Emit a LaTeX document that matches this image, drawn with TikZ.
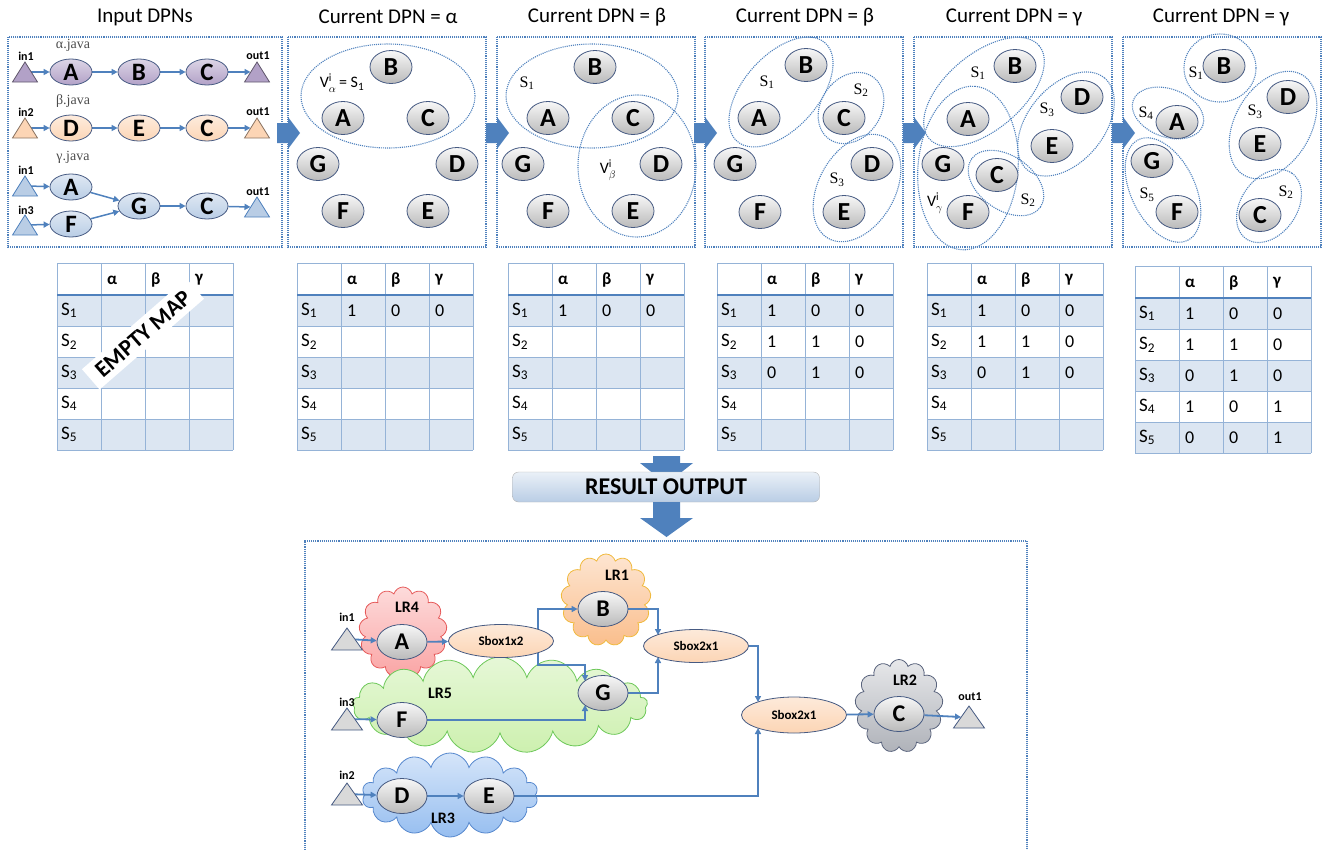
\documentclass[tikz,border=0pt]{standalone}
\usepackage{fontspec}
\setmainfont{Carlito}
\newfontfamily\serifname{Liberation Serif}
\usetikzlibrary{shapes.geometric, shapes.symbols, positioning, arrows.meta, calc}
\definecolor{dpnblue}{RGB}{79,129,189}
\definecolor{nodeline}{RGB}{70,90,130}
\definecolor{alphafill}{RGB}{178,161,199}
\definecolor{betafill}{RGB}{252,213,181}
\definecolor{gammafill}{RGB}{185,205,229}
\definecolor{rowfill}{RGB}{220,230,242}
\definecolor{gridline}{RGB}{149,179,215}
\definecolor{lrfourline}{RGB}{230,90,90}
\definecolor{lrfourfill}{RGB}{250,165,165}
\definecolor{lroneline}{RGB}{240,185,60}
\definecolor{lronefill}{RGB}{250,190,140}
\definecolor{lrfiveline}{RGB}{110,200,90}
\definecolor{lrfivefill}{RGB}{205,240,175}
\definecolor{lrthreeline}{RGB}{85,135,205}
\definecolor{lrthreefill}{RGB}{150,190,240}
\definecolor{lrtwoline}{RGB}{90,100,125}
\definecolor{lrtwofill}{RGB}{175,178,185}

\pgfdeclarelayer{clouds}
\pgfdeclarelayer{wires}
\pgfsetlayers{clouds,wires,main}

\tikzset{
  cell/.style={anchor=west, inner sep=0pt, font=\fontsize{18}{18}\selectfont},
  port/.pic={\path[pic actions] (-12.5,10) -- (12.5,10) -- (0,-10) -- cycle;
    \coordinate (-c) at (0,0); \coordinate (-w) at (-6.5,0);}
}

% mapping table: name, x, y
\newcommand{\maptable}[3]{%
  \begin{scope}[shift={(#2,#3)}]
    \foreach \r in {1,3,5}
      \fill[rowfill] (0,{1+31*\r}) rectangle (176,{32+31*\r});
    \foreach \yy in {0,32,63,94,125,156,187}
      \draw[gridline, line width=0.9pt] (0,\yy) -- (176,\yy);
    \foreach \xx in {0,44,88,132,176}
      \draw[gridline, line width=0.9pt] (\xx,0) -- (\xx,187);
    \draw[dpnblue, line width=1.4pt] (0,32) -- (176,32);
    \foreach \g [count=\c] in {α,β,γ}
      \node[cell, font=\fontsize{17}{17}\selectfont\bfseries] (#1h\c) at ({44*\c+6},17) {\g};
    \foreach \r in {1,...,5}
      \node[cell, font=\fontsize{19}{19}\selectfont] (#1s\r) at (4,{16.5+31*\r}) {S\textsubscript{\r}};
  \end{scope}}
% table entries: name, x, y, rows r/a/b/c
\newcommand{\mapvalues}[4]{%
  \foreach \r/\va/\vb/\vc in {#4} {
    \node[cell] (#1a\r) at ({#2+50},{#3+16.5+31*\r}) {\va};
    \node[cell] (#1b\r) at ({#2+94},{#3+16.5+31*\r}) {\vb};
    \node[cell] (#1c\r) at ({#2+138},{#3+16.5+31*\r}) {\vc};
  }}

\begin{document}
\begin{tikzpicture}[x=1pt, y=-1pt,
    dpn/.style={ellipse, draw=nodeline, line width=0.8pt, minimum width=42pt, minimum height=26pt, inner sep=0pt, font=\fontsize{25}{25}\selectfont\bfseries},
    alphanode/.style={dpn, top color=alphafill!45!white, bottom color=alphafill},
    betanode/.style={dpn, top color=betafill!45!white, bottom color=betafill},
    gammanode/.style={dpn, top color=gammafill!45!white, bottom color=gammafill},
    vnode/.style={dpn, minimum height=33pt, top color=black!3, bottom color=black!27, font=\fontsize{26}{26}\selectfont\bfseries},
    bignode/.style={vnode, minimum width=50pt, minimum height=35pt, font=\fontsize{24}{24}\selectfont\bfseries},
    sbox/.style={ellipse, draw=nodeline, line width=0.8pt, top color=betafill!50!white, bottom color=betafill, minimum width=105pt, minimum height=33pt, inner sep=0pt, font=\fontsize{13}{13}\selectfont\bfseries},
    cloudnode/.style={cloud, cloud puffs=13, cloud ignores aspect, inner sep=0pt, line width=0.8pt},
    alphaport/.style={draw=alphafill!55!black, fill=alphafill, line width=0.8pt},
    betaport/.style={draw=betafill!55!black, fill=betafill, line width=0.8pt},
    gammaport/.style={draw=dpnblue, fill=gammafill, line width=0.8pt},
    grayport/.style={draw=nodeline, fill=black!15, line width=0.8pt},
    flow/.style={draw=dpnblue, line width=1.5pt, -{Triangle[length=6pt,width=6pt]}},
    bigflow/.style={flow, line width=1.8pt},
    group/.style={draw=dpnblue, line width=1.1pt, dash pattern=on 1.1pt off 1pt},
    title/.style={font=\fontsize{21}{21}\selectfont},
    portlbl/.style={font=\fontsize{12}{12}\selectfont\bfseries},
    srclbl/.style={font=\serifname\fontsize{14}{14}\selectfont, text=black!70},
    setlbl/.style={font=\serifname\fontsize{16}{16}\selectfont},
    lrlbl/.style={font=\fontsize{16}{16}\selectfont\bfseries}]

\useasboundingbox (0,0) rectangle (1323,849);

% titles
\node[title] (ttl1) at (145,17) {Input DPNs};
\node[title] (ttl2) at (388,17) {Current DPN = α};
\node[title] (ttl3) at (597,17) {Current DPN = β};
\node[title] (ttl4) at (805,17) {Current DPN = β};
\node[title] (ttl5) at (1014,17) {Current DPN = γ};
\node[title] (ttl6) at (1221,17) {Current DPN = γ};

% panels
\draw[group] (8,37) rectangle (282,247);
\foreach \xl in {288,497,705,914,1123}
  \draw[group] (\xl,37) rectangle (\xl+198,247);
\foreach \xb in {288,497,705,914,1123}
  \fill[dpnblue] (\xb-11,123) -- (\xb,123) -- (\xb,117) -- (\xb+12,133) -- (\xb,149) -- (\xb,143) -- (\xb-11,143) -- cycle;

% input DPNs
\node[srclbl] (srca) at (73,45) {α.java};
\node[srclbl] (srcb) at (73,101) {β.java};
\node[srclbl] (srcg) at (73,157) {γ.java};
\pic[alphaport] (ain1) at (25,72) {port};
\pic[alphaport] (aout1) at (257,72) {port};
\node[portlbl] (ain1l) at (26,56) {in1};
\node[portlbl] (aout1l) at (258,56) {out1};
\node[alphanode] (aA) at (71,72) {A};
\node[alphanode] (aB) at (139,72) {B};
\node[alphanode] (aC) at (207,72) {C};
\pic[betaport] (bin2) at (25,128) {port};
\pic[betaport] (bout1) at (257,128) {port};
\node[portlbl] (bin2l) at (26,112) {in2};
\node[portlbl] (bout1l) at (258,112) {out1};
\node[betanode] (bD) at (71,128) {D};
\node[betanode] (bE) at (139,128) {E};
\node[betanode] (bC) at (207,128) {C};
\pic[gammaport] (gin1) at (25,186) {port};
\pic[gammaport] (gin3) at (25,225) {port};
\pic[gammaport] (gout1) at (257,207) {port};
\node[portlbl] (gin1l) at (26,170) {in1};
\node[portlbl] (gin3l) at (26,210) {in3};
\node[portlbl] (gout1l) at (258,192) {out1};
\node[gammanode] (gA) at (71,187) {A};
\node[gammanode] (gF) at (71,224) {F};
\node[gammanode] (gG) at (139,206) {G};
\node[gammanode] (gC) at (207,206) {C};

% current DPN = alpha
\draw[group] (388,96) ellipse [x radius=87pt, y radius=52pt];
\node[setlbl] (p2lbl) at (342,83) {\normalfont V$^{\mathrm{i}}_{\alpha}$\,= S\textsubscript{1}};
\foreach \n/\x/\y in {B/391/67, A/343/118, C/428/118, G/318/164, D/457/164, F/343/211, E/428/211}
  \node[vnode] (p2\n) at (\x,\y) {\n};

% current DPN = beta
\draw[group] (592,96) ellipse [x radius=86pt, y radius=52pt];
\draw[group] (637,166) ellipse [x radius=59pt, y radius=71pt];
\node[setlbl] (p3s1) at (527,83) {S\textsubscript{1}};
\node[setlbl] (p3lbl) at (608,170) {\normalfont V$^{\mathrm{i}}_{\beta}$};
\foreach \n/\x/\y in {B/595/67, A/548/118, C/633/118, G/523/164, D/661/164, F/548/211, E/633/211}
  \node[vnode] (p3\n) at (\x,\y) {\n};

% current DPN = beta, split
\draw[group, rotate around={48:(781,92)}] (781,92) ellipse [x radius=66pt, y radius=37pt];
\draw[group, rotate around={55:(851,108)}] (851,108) ellipse [x radius=38pt, y radius=30pt];
\draw[group, rotate around={60:(857,188)}] (857,188) ellipse [x radius=58pt, y radius=38pt];
\node[setlbl] (p4s1) at (767,82) {S\textsubscript{1}};
\node[setlbl] (p4s2) at (861,90) {S\textsubscript{2}};
\node[setlbl] (p4s3) at (837,180) {S\textsubscript{3}};
\foreach \n/\x/\y in {B/806/65, A/759/118, C/844/118, G/735/164, D/872/164, F/760/212, E/844/212}
  \node[vnode] (p4\n) at (\x,\y) {\n};

% current DPN = gamma
\draw[group, rotate around={40:(984,92)}] (984,92) ellipse [x radius=72pt, y radius=38pt];
\draw[group, rotate around={50:(1066,124)}] (1066,124) ellipse [x radius=60pt, y radius=38pt];
\draw[group, rotate around={85:(968,168)}] (968,168) ellipse [x radius=82pt, y radius=50pt];
\draw[group, rotate around={-35:(1006,183)}] (1006,183) ellipse [x radius=42pt, y radius=27pt];
\node[setlbl] (p5s1) at (978,73) {S\textsubscript{1}};
\node[setlbl] (p5s3) at (1047,110) {S\textsubscript{3}};
\node[setlbl] (p5s2) at (1028,200) {S\textsubscript{2}};
\node[setlbl] (p5lbl) at (935,203) {\normalfont V$^{\mathrm{i}}_{\gamma}$};
\foreach \n/\x/\y in {B/1015/66, A/968/119, D/1082/97, E/1052/146, G/943/164, C/997/175, F/968/212}
  \node[vnode] (p5\n) at (\x,\y) {\n};

% current DPN = gamma, split
\draw[group] (1220,68) ellipse [x radius=36pt, y radius=34pt];
\draw[group, rotate around={-20:(1168,113)}] (1168,113) ellipse [x radius=37pt, y radius=24pt];
\draw[group, rotate around={60:(1273,125)}] (1273,125) ellipse [x radius=58pt, y radius=38pt];
\draw[group, rotate around={-64:(1163,190)}] (1163,190) ellipse [x radius=56pt, y radius=32pt];
\draw[group, rotate around={55:(1269,206)}] (1269,206) ellipse [x radius=40pt, y radius=28pt];
\node[setlbl] (p6s1) at (1196,73) {S\textsubscript{1}};
\node[setlbl] (p6s4) at (1146,113) {S\textsubscript{4}};
\node[setlbl] (p6s3) at (1255,112) {S\textsubscript{3}};
\node[setlbl] (p6s5) at (1147,195) {S\textsubscript{5}};
\node[setlbl] (p6s2) at (1286,192) {S\textsubscript{2}};
\foreach \n/\x/\y in {B/1224/66, A/1177/122, D/1288/97, E/1260/144, G/1152/161, F/1177/212, C/1260/215}
  \node[vnode] (p6\n) at (\x,\y) {\n};

% mapping tables
\maptable{ta}{57}{263}
\maptable{tb}{297}{263}
\maptable{tc}{508}{263}
\maptable{td}{717}{263}
\maptable{te}{927}{263}
\maptable{tf}{1135}{266}
\mapvalues{tb}{297}{263}{1/1/0/0}
\mapvalues{tc}{508}{263}{1/1/0/0}
\mapvalues{td}{717}{263}{1/1/0/0, 2/1/1/0, 3/0/1/0}
\mapvalues{te}{927}{263}{1/1/0/0, 2/1/1/0, 3/0/1/0}
\mapvalues{tf}{1135}{266}{1/1/0/0, 2/1/1/0, 3/0/1/0, 4/1/0/1, 5/0/0/1}
\node[fill=white, rotate=41, inner xsep=10pt, inner ysep=6pt, font=\fontsize{23}{23}\selectfont\bfseries] (emptymap) at (143,334) {EMPTY MAP};

% result output
\fill[dpnblue] (653,456) -- (680,456) -- (680,463) -- (693,463) -- (666.5,484) -- (640,463) -- (653,463) -- cycle;
\node[rounded corners=6pt, draw=black!30, top color=rowfill!60!white, bottom color=gammafill, minimum width=307pt, minimum height=30pt, font=\fontsize{24}{24}\selectfont\bfseries] (result) at (666,487) {RESULT OUTPUT};
\fill[dpnblue] (653,502) -- (680,502) -- (680,518) -- (693,518) -- (666.5,537) -- (640,518) -- (653,518) -- cycle;
\draw[group] (305,852) -- (305,541) -- (1027,541) -- (1027,852);

% resulting logical resources
\begin{pgfonlayer}{clouds}
  \node[cloudnode, draw=lrfourline, top color=lrfourfill!40!white, bottom color=lrfourfill, minimum width=88pt, minimum height=90pt] (lr4) at (403,632) {};
  \node[cloudnode, draw=lroneline, top color=lronefill!40!white, bottom color=lronefill, minimum width=90pt, minimum height=92pt] (lr1) at (606,600) {};
  \node[cloudnode, cloud puffs=17, draw=lrfiveline, top color=lrfivefill!50!white, bottom color=lrfivefill, minimum width=295pt, minimum height=96pt] (lr5) at (500,705) {};
  \node[cloudnode, cloud puffs=14, draw=lrthreeline, top color=lrthreefill!40!white, bottom color=lrthreefill, minimum width=176pt, minimum height=84pt] (lr3) at (450,795) {};
  \node[cloudnode, draw=lrtwoline, top color=lrtwofill!30!white, bottom color=lrtwofill, minimum width=88pt, minimum height=93pt] (lr2) at (899,706) {};
\end{pgfonlayer}
\node[lrlbl] (lr4l) at (407,607) {LR4};
\node[lrlbl] (lr1l) at (617,575) {LR1};
\node[lrlbl] (lr5l) at (440,693) {LR5};
\node[lrlbl] (lr3l) at (443,818) {LR3};
\node[lrlbl] (lr2l) at (905,680) {LR2};

\pic[grayport, xscale=1.24, yscale=1.1] (rin1) at (347,639) {port};
\pic[grayport, xscale=1.24, yscale=1.1] (rin3) at (347,719) {port};
\pic[grayport, xscale=1.24, yscale=1.1] (rin2) at (347,794) {port};
\pic[grayport, xscale=1.24, yscale=1.1] (rout1) at (969,717) {port};
\node[portlbl] (rin1l) at (347,617) {in1};
\node[portlbl] (rin3l) at (347,702) {in3};
\node[portlbl] (rin2l) at (347,775) {in2};
\node[portlbl] (rout1l) at (970,697) {out1};

\node[bignode] (rA) at (402,642) {A};
\node[bignode] (rF) at (402,720) {F};
\node[bignode] (rD) at (402,796) {D};
\node[bignode] (rE) at (489,796) {E};
\node[bignode] (rB) at (603,609) {B};
\node[bignode] (rG) at (603,693) {G};
\node[bignode] (rC) at (899,714) {C};
\node[sbox] (sbox12) at (501,641) {Sbox1x2};
\node[sbox] (sbox21a) at (696,646) {Sbox2x1};
\node[sbox, minimum height=36pt] (sbox21b) at (794,715) {Sbox2x1};

% connectors
\begin{pgfonlayer}{wires}
  \draw[flow] (ain1-c) -- (aA);
  \draw[flow] (aA) -- (aB);
  \draw[flow] (aB) -- (aC);
  \draw[flow] (aC) -- (aout1-w);
  \draw[flow] (bin2-c) -- (bD);
  \draw[flow] (bD) -- (bE);
  \draw[flow] (bE) -- (bC);
  \draw[flow] (bC) -- (bout1-w);
  \draw[flow] (gin1-c) -- (gA);
  \draw[flow] (gin3-c) -- (gF);
  \draw[flow] (gA) -- (gG);
  \draw[flow] (gF) -- (gG);
  \draw[flow] (gG) -- (gC);
  \draw[flow] (gC) -- (gout1-w);

  \draw[bigflow] (rin1-c) -- (rA);
  \draw[bigflow] (rA) -- (sbox12);
  \draw[bigflow] ([xshift=37pt]sbox12.center) |- (rB);
  \draw[bigflow] ([xshift=37pt]sbox12.center) -- ++(0,24) -| ([xshift=-18pt,yshift=12pt]rG.center);
  \draw[bigflow] (rin3-c) -- (rF);
  \draw[bigflow] (rF.east) -| ([xshift=-18pt,yshift=-12pt]rG.center);
  \draw[bigflow] (rB.east) -| ([xshift=-38pt,yshift=11pt]sbox21a.center);
  \draw[bigflow] (rG.east) -| ([xshift=-38pt,yshift=-11pt]sbox21a.center);
  \draw[bigflow] (rin2-c) -- (rD);
  \draw[bigflow] (rD) -- (rE);
  \draw[bigflow] (sbox21a.east) -| ([xshift=-36pt,yshift=13pt]sbox21b.center);
  \draw[bigflow] (rE.east) -| ([xshift=-36pt,yshift=-13pt]sbox21b.center);
  \draw[bigflow] (sbox21b) -- (rC);
  \draw[bigflow] (rC) -- (rout1-w);
\end{pgfonlayer}
\end{tikzpicture}
\end{document}
